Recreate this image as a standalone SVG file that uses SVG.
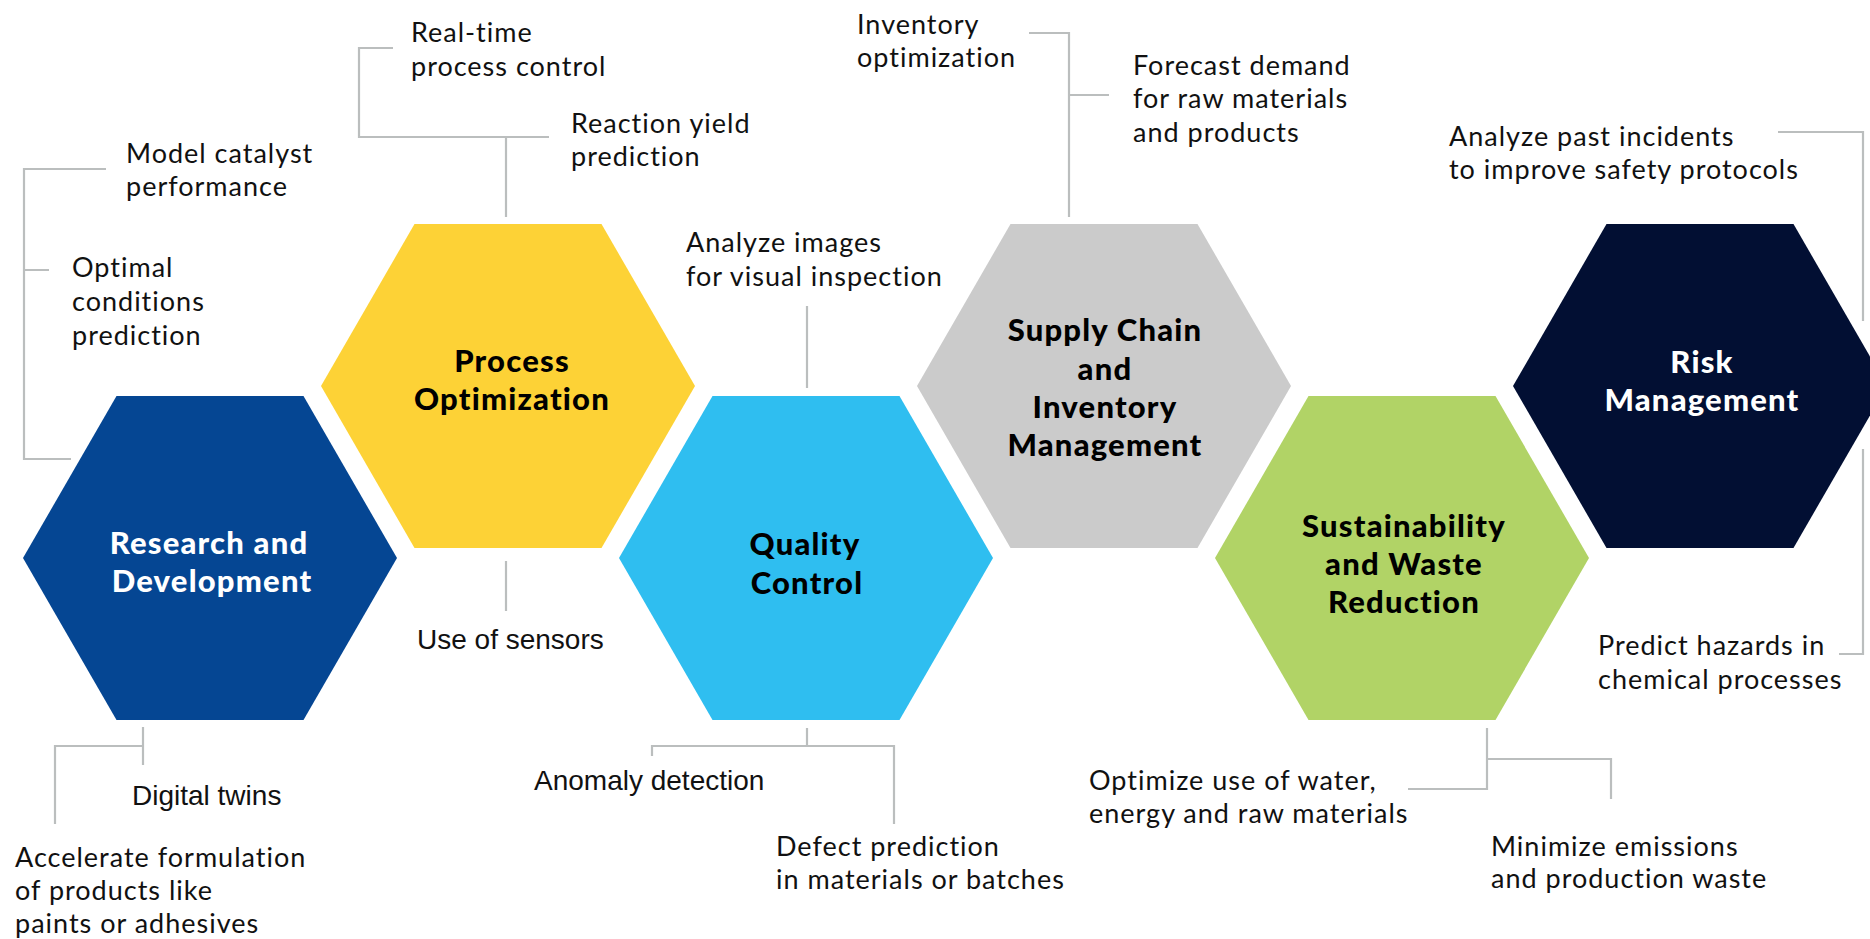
<svg xmlns="http://www.w3.org/2000/svg" width="1870" height="939" viewBox="0 0 1870 939">
<style>
.hex{stroke:none}
.lbl{font-family:Lato,"Liberation Sans",sans-serif;font-weight:900;font-size:31px;letter-spacing:1.2px;text-anchor:middle}
.t{font-family:Lato,"Liberation Sans",sans-serif;font-size:27px;letter-spacing:1px;fill:#111}
.a{font-family:"Liberation Sans",Arial,sans-serif;font-size:28px;fill:#111}
.c{fill:none;stroke:#BBBEBE;stroke-width:2.2}
</style>
<rect width="1870" height="939" fill="#fff"/>
<g id="connectors">
<path class="c" d="M106,169 H24 V459 H71 M24,270 H49"/>
<path class="c" d="M143,727 V765 M143,746 H55 V824"/>
<path class="c" d="M506,217 V137 M549,137 H359 V48 H393"/>
<path class="c" d="M506,561 V611"/>
<path class="c" d="M807,306 V388"/>
<path class="c" d="M807,728 V746 M652,756 V746 H894 V824"/>
<path class="c" d="M1029,33 H1069 V217 M1069,95 H1109"/>
<path class="c" d="M1487,728 V789 H1408 M1487,759 H1611 V799"/>
<path class="c" d="M1778,132 H1863 V321 M1863,449 V654 H1839"/>
</g>
<g id="rd">
<polygon class="hex" fill="#054693" points="23,558 116.5,396 303.5,396 397,558 303.5,720 116.5,720"/>
<text class="lbl" fill="#fff" x="209" y="554">Research and</text>
<text class="lbl" fill="#fff" x="212" y="592">Development</text>
<text class="t" x="126" y="163">Model catalyst</text>
<text class="t" x="126" y="196">performance</text>
<text class="t" x="72" y="277">Optimal</text>
<text class="t" x="72" y="311">conditions</text>
<text class="t" x="72" y="345">prediction</text>
<text class="a" x="132" y="805">Digital twins</text>
<text class="t" x="15" y="867">Accelerate formulation</text>
<text class="t" x="15" y="900">of products like</text>
<text class="t" x="15" y="933">paints or adhesives</text>
</g>
<g id="process">
<polygon class="hex" fill="#FDD236" points="321,386 414.5,224 601.5,224 695,386 601.5,548 414.5,548"/>
<text class="lbl" fill="#000" x="512" y="372">Process</text>
<text class="lbl" fill="#000" x="512" y="410">Optimization</text>
<text class="t" x="411" y="42">Real-time</text>
<text class="t" x="411" y="76">process control</text>
<text class="t" x="571" y="133">Reaction yield</text>
<text class="t" x="571" y="166">prediction</text>
<text class="a" x="417" y="649">Use of sensors</text>
</g>
<g id="quality">
<polygon class="hex" fill="#2FBEF0" points="619,558 712.5,396 899.5,396 993,558 899.5,720 712.5,720"/>
<text class="lbl" fill="#000" x="805" y="555">Quality</text>
<text class="lbl" fill="#000" x="807" y="594">Control</text>
<text class="t" x="686" y="252">Analyze images</text>
<text class="t" x="686" y="286">for visual inspection</text>
<text class="a" x="534" y="790">Anomaly detection</text>
<text class="t" x="776" y="856">Defect prediction</text>
<text class="t" x="776" y="889">in materials or batches</text>
</g>
<g id="supply">
<polygon class="hex" fill="#CBCBCB" points="917,386 1010.5,224 1197.5,224 1291,386 1197.5,548 1010.5,548"/>
<text class="lbl" fill="#000" x="1105" y="341">Supply Chain</text>
<text class="lbl" fill="#000" x="1105" y="380">and</text>
<text class="lbl" fill="#000" x="1105" y="418">Inventory</text>
<text class="lbl" fill="#000" x="1105" y="456">Management</text>
<text class="t" x="857" y="34">Inventory</text>
<text class="t" x="857" y="67">optimization</text>
<text class="t" x="1133" y="75">Forecast demand</text>
<text class="t" x="1133" y="108">for raw materials</text>
<text class="t" x="1133" y="142">and products</text>
</g>
<g id="sustainability">
<polygon class="hex" fill="#B1D366" points="1215,558 1308.5,396 1495.5,396 1589,558 1495.5,720 1308.5,720"/>
<text class="lbl" fill="#000" x="1404" y="537">Sustainability</text>
<text class="lbl" fill="#000" x="1404" y="575">and Waste</text>
<text class="lbl" fill="#000" x="1404" y="613">Reduction</text>
<text class="t" x="1089" y="790">Optimize use of water,</text>
<text class="t" x="1089" y="823">energy and raw materials</text>
<text class="t" x="1491" y="856">Minimize emissions</text>
<text class="t" x="1491" y="888">and production waste</text>
</g>
<g id="risk">
<polygon class="hex" fill="#020F33" points="1513,386 1606.5,224 1793.5,224 1887,386 1793.5,548 1606.5,548"/>
<text class="lbl" fill="#fff" x="1702" y="373">Risk</text>
<text class="lbl" fill="#fff" x="1702" y="411">Management</text>
<text class="t" x="1449" y="146">Analyze past incidents</text>
<text class="t" x="1449" y="179">to improve safety protocols</text>
<text class="t" x="1598" y="655">Predict hazards in</text>
<text class="t" x="1598" y="689">chemical processes</text>
</g>
</svg>
